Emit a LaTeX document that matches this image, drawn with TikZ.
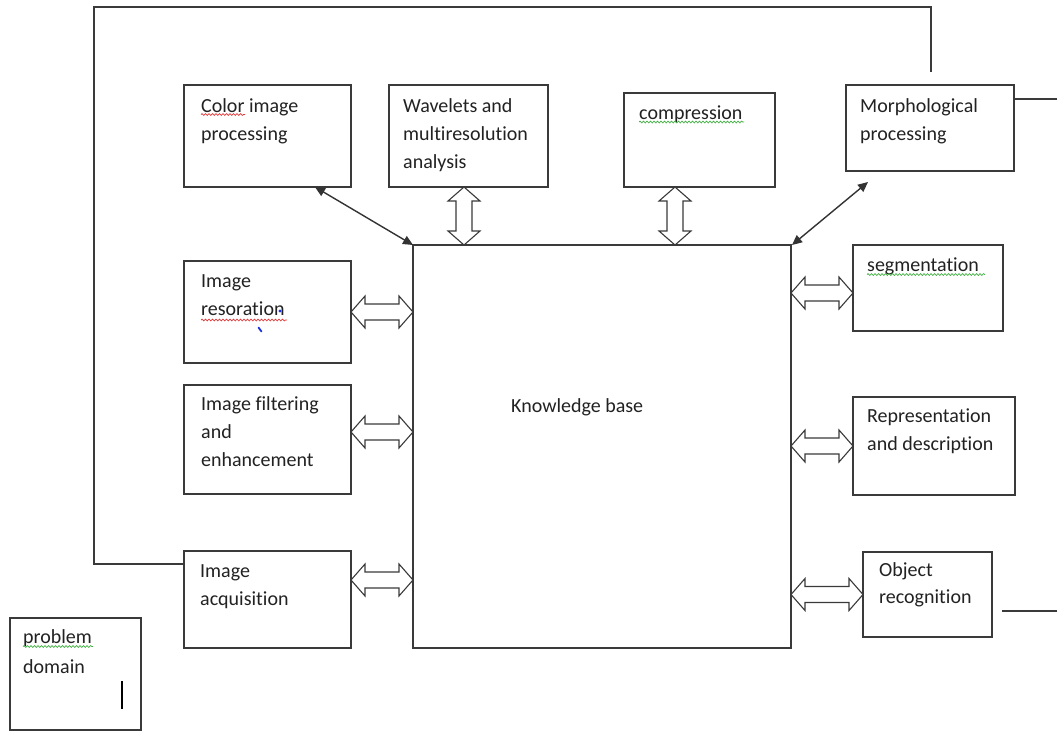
\documentclass[tikz,border=0pt]{standalone}
\usepackage{fontspec}
\setmainfont{Carlito}[Ligatures=CommonOff]
\usetikzlibrary{calc,arrows.meta,decorations.pathmorphing}
\definecolor{ink}{HTML}{3A3A3A}
\definecolor{txt}{HTML}{222222}
\definecolor{spellred}{HTML}{E03A3A}
\definecolor{spellgreen}{HTML}{3FAF3F}
\definecolor{cursorblue}{HTML}{1A2FE0}

% hollow double-headed block arrow between two points
\newcommand\hollowarrow[2]{%
  \draw[hollow] (#1)
    -- ($(#1)!14pt!(#2)!16pt!90:(#2)$)
    -- ($(#1)!14pt!(#2)!8pt!90:(#2)$)
    -- ($(#2)!14pt!(#1)!8pt!-90:(#1)$)
    -- ($(#2)!14pt!(#1)!16pt!-90:(#1)$)
    -- (#2)
    -- ($(#2)!14pt!(#1)!16pt!90:(#1)$)
    -- ($(#2)!14pt!(#1)!8pt!90:(#1)$)
    -- ($(#1)!14pt!(#2)!8pt!-90:(#2)$)
    -- ($(#1)!14pt!(#2)!16pt!-90:(#2)$)
    -- cycle;}

\begin{document}
\begin{tikzpicture}[x=1pt,y=-1pt,
  frame/.style={draw=ink, line width=1.3pt, fill=white, anchor=north west,
    inner sep=0pt, outer sep=0pt},
  boxtext/.style={anchor=base west, inner sep=0pt, text=txt,
    font=\fontsize{20}{28}\selectfont},
  hollow/.style={draw=ink, line width=1.1pt, fill=white, line join=miter},
  thinarrow/.style={draw=black!80, line width=1.4pt,
    {Triangle[length=10pt,width=9pt]}-{Triangle[length=10pt,width=9pt]}},
  wire/.style={draw=ink, line width=1.3pt},
  squiggle/.style={decorate, decoration={snake, amplitude=0.9pt, segment length=3.5pt},
    line width=0.7pt}]

\useasboundingbox (0,0) rectangle (1057,732);

% ---- boxes ----
\node[frame, minimum width=378pt, minimum height=403pt] (kb)    at (413,245) {};
\node[frame, minimum width=167pt, minimum height=102pt] (color) at (184,85)  {};
\node[frame, minimum width=159pt, minimum height=102pt] (wav)   at (389,85)  {};
\node[frame, minimum width=151pt, minimum height=94pt]  (comp)  at (624,93)  {};
\node[frame, minimum width=168pt, minimum height=86pt]  (morph) at (846,85)  {};
\node[frame, minimum width=167pt, minimum height=102pt] (resto) at (184,261) {};
\node[frame, minimum width=167pt, minimum height=109pt] (filt)  at (184,385) {};
\node[frame, minimum width=167pt, minimum height=97pt]  (acq)   at (184,551) {};
\node[frame, minimum width=150pt, minimum height=86pt]  (seg)   at (853,245) {};
\node[frame, minimum width=162pt, minimum height=98pt]  (rep)   at (853,397) {};
\node[frame, minimum width=129pt, minimum height=85pt]  (obj)   at (863,552) {};
\node[frame, minimum width=131pt, minimum height=112pt] (prob)  at (10,618)  {};

% ---- texts ----
\node[boxtext] (kbt)    at (511,412) {Knowledge base};
\node[boxtext] (colort) at (201,112) {\parbox[t]{150pt}{Color image\\processing}};
\node[boxtext] (wavt)   at (403,112) {\parbox[t]{150pt}{Wavelets and\\multiresolution\\analysis}};
\node[boxtext] (compt)  at (639,119) {compression};
\node[boxtext] (morpht) at (860,112) {\parbox[t]{150pt}{Morphological\\processing}};
\node[boxtext] (restot) at (201,287) {\parbox[t]{150pt}{Image\\resoration}};
\node[boxtext] (filtt)  at (201,410) {\parbox[t]{150pt}{Image filtering\\and\\enhancement}};
\node[boxtext] (acqt)   at (200,577) {\parbox[t]{150pt}{Image\\acquisition}};
\node[boxtext] (segt)   at (867,271) {segmentation};
\node[boxtext] (rept)   at (867,422) {\parbox[t]{150pt}{Representation\\and description}};
\node[boxtext, font=\fontsize{20}{27}\selectfont] (objt) at (879,576)
  {\parbox[t]{110pt}{Object\\recognition}};
\node[boxtext, font=\fontsize{20}{30}\selectfont] (probt) at (23,643)
  {\parbox[t]{110pt}{problem\\domain}};

% ---- spell-check underlines ----
\draw[squiggle, spellred]   (201,114.5) -- (245,114.5);
\draw[squiggle, spellred]   (201,320) -- (287,320);
\draw[squiggle, spellgreen] (639,122) -- (744,122);
\draw[squiggle, spellgreen] (867,274.5) -- (985,274.5);
\draw[squiggle, spellgreen] (23,646.5) -- (93,646.5);

% ---- stray marks ----
\fill[cursorblue] (280,311) circle (1.6pt);
\draw[cursorblue, line width=1.8pt, line cap=round] (258.5,327.5) -- (261.5,331.5);
\draw[black, line width=2.6pt] (122,681) -- (122,709);

% ---- anchor points of the block arrows ----
\coordinate (wavA)  at ([xshift=-4.5pt]wav.south);
\coordinate (compA) at ([xshift=-24.5pt]comp.south);
\coordinate (filtA) at ([yshift=7.5pt]filt.east);
\coordinate (acqA)  at ([yshift=19.5pt]acq.east);
\coordinate (segA)  at ([yshift=-5pt]seg.west);
\coordinate (wavK)  at (kb.north -| wavA);
\coordinate (compK) at (kb.north -| compA);
\coordinate (restoK) at (kb.west |- resto.east);
\coordinate (filtK) at (kb.west |- filtA);
\coordinate (acqK)  at (kb.west |- acqA);
\coordinate (segK)  at (kb.east |- segA);
\coordinate (repK)  at (kb.east |- rep.west);
\coordinate (objK)  at (kb.east |- obj.west);

\hollowarrow{wavA}{wavK}
\hollowarrow{compA}{compK}
\hollowarrow{resto.east}{restoK}
\hollowarrow{filtA}{filtK}
\hollowarrow{acqA}{acqK}
\hollowarrow{segK}{segA}
\hollowarrow{repK}{rep.west}
\hollowarrow{objK}{obj.west}

% ---- thin double arrows ----
\coordinate (colorA) at ([xshift=47.5pt]color.south);
\coordinate (morphA) at ([xshift=-62pt,yshift=-11pt]morph.south);
\draw[thinarrow] (colorA) -- (kb.north west);
\draw[thinarrow] (morphA) -- ([xshift=1pt]kb.north east);

% ---- feedback loop and loose lines ----
\coordinate (loopL) at (94,564);
\coordinate (loopT) at (94,7);
\coordinate (loopR) at (931,7);
\coordinate (loopEnd) at (931,72);
\draw[wire] ([yshift=-13pt]acq.north west) -- (loopL) -- (loopT) -- (loopR) -- (loopEnd);
\coordinate (morphTail) at (1057,99);
\draw[wire] ([yshift=-14pt]morph.north east) -- (morphTail);
\coordinate (objTailA) at (1002,611);
\coordinate (objTailB) at (1057,611);
\draw[wire] (objTailA) -- (objTailB);

\end{tikzpicture}
\end{document}
